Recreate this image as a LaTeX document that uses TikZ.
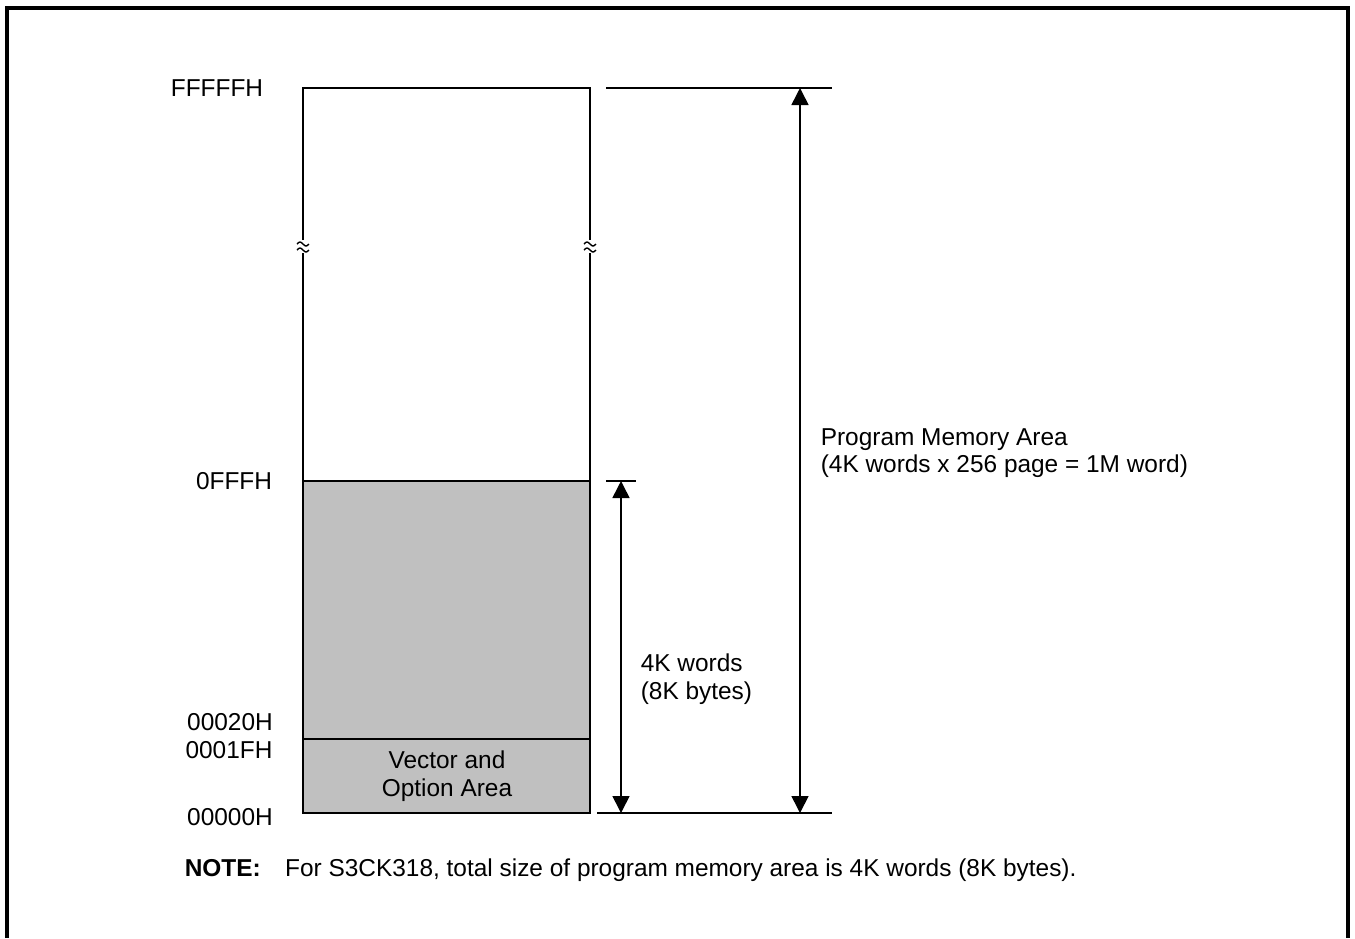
\documentclass[tikz,border=0pt]{standalone}
\usepackage{fontspec}
\setmainfont{Liberation Sans}
\usetikzlibrary{arrows.meta}
\definecolor{memgray}{HTML}{C0C0C0}
\begin{document}
\begin{tikzpicture}[
  x=0.02cm, y=-0.02cm,
  line width=0.9pt,
  every node/.style={font=\fontsize{13.9}{15.6}\selectfont},
  addr/.style={inner sep=0pt},
  label/.style={inner sep=0pt, align=left, anchor=west},
  frame/.style={line width=2.3pt},
  area/.style={fill=memgray, draw=black},
  dimarrow/.style={{Triangle[length=0.34cm,width=0.34cm]}-{Triangle[length=0.34cm,width=0.34cm]}}
]
\useasboundingbox (0,0) rectangle (1355,938);
% outer frame, open at the bottom
\draw[frame] (7,938) -- (7,8) -- (1348,8) -- (1348,938);

% memory map
\draw[area] (303,481) rectangle (590,813);
\draw (303,739) -- (590,739);
\draw (303,481) -- (303,253);
\draw (303,240) -- (303,88) -- (590,88) -- (590,240);
\draw (590,253) -- (590,481);
\foreach \bx in {303,590}
  \foreach \by in {244,250}
    \draw[line width=0.8pt] (\bx-6,\by) sin (\bx-3,\by-2) cos (\bx,\by) sin (\bx+3,\by+2) cos (\bx+6,\by);

% addresses
\node[addr] (fffffh) at (217,88) {FFFFFH};
\node[addr] (0fffh) at (234,481) {0FFFH};
\node[addr] (00020h) at (230,722) {00020H};
\node[addr] (0001fh) at (229,750) {0001FH};
\node[addr] (00000h) at (230,817) {00000H};
\node[align=center, inner sep=0pt] (vector) at (447,776) {Vector and\\Option Area};

% dimension lines
\coordinate (topl) at (606,88);
\coordinate (topr) at (832,88);
\coordinate (midl) at (606,481);
\coordinate (midr) at (636,481);
\coordinate (botl) at (597,813);
\coordinate (botr) at (832,813);
\draw (topl) -- (topr);
\draw (midl) -- (midr);
\draw (botl) -- (botr);
\coordinate (progtop) at (800,88);
\coordinate (progbot) at (800,813);
\coordinate (wordtop) at (621,481);
\coordinate (wordbot) at (621,813);
\draw[dimarrow] (progtop) -- (progbot);
\draw[dimarrow] (wordtop) -- (wordbot);

\node[label] (words) at (640,679) {4K words\\(8K bytes)};
\node[label] (program) at (820,453) {Program Memory Area\\(4K words x 256 page = 1M word)};

\node[label] (note) at (184,870) {\textbf{NOTE:}\quad For S3CK318, total size of program memory area is 4K words (8K bytes).};
\end{tikzpicture}
\end{document}
